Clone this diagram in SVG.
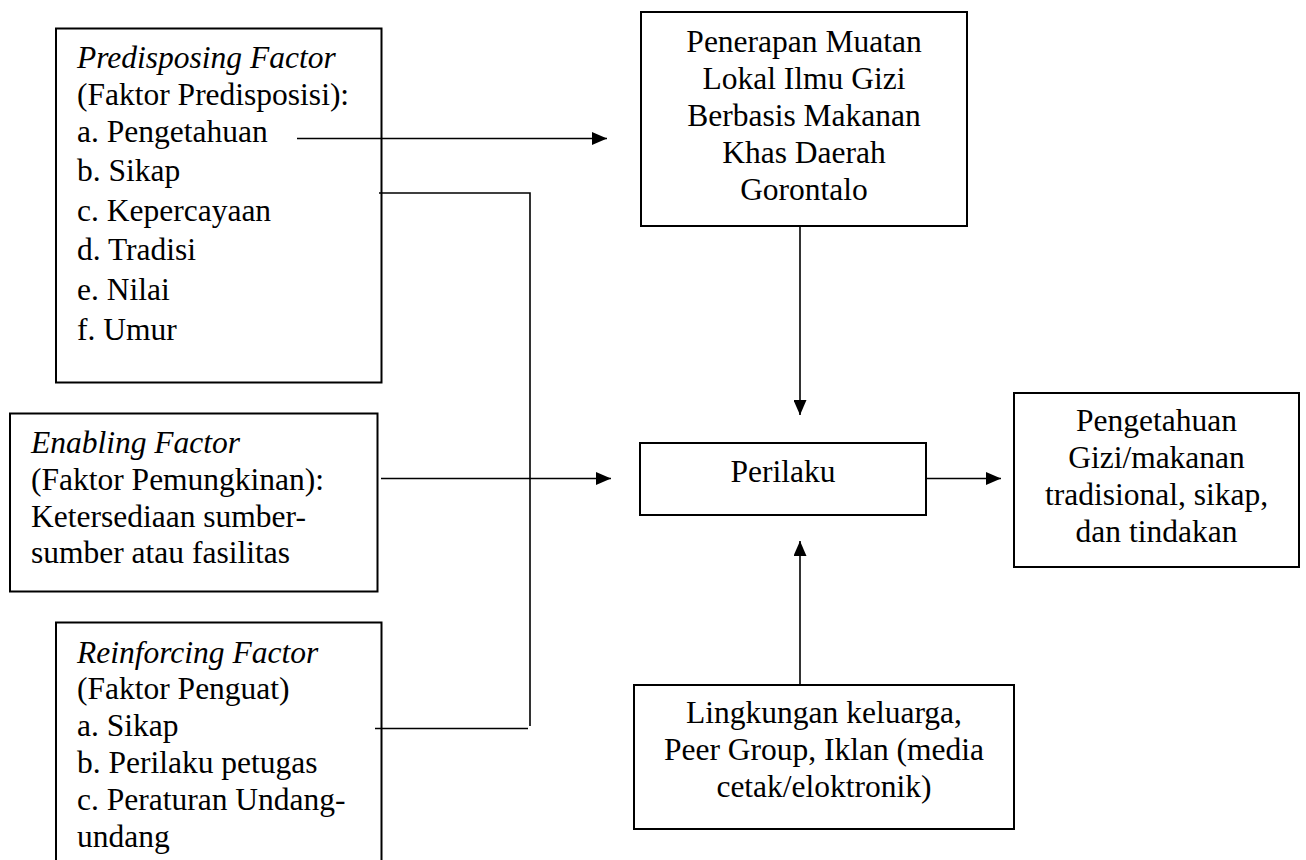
<svg xmlns="http://www.w3.org/2000/svg" width="1306" height="860" viewBox="0 0 1306 860">
<style>
.box{fill:#fff;stroke:#000;stroke-width:2}
.t{font-family:"Liberation Serif","Times New Roman",serif;font-size:31.5px;fill:#000}
.i{font-style:italic}
.c{text-anchor:middle}
.ln{fill:none;stroke:#000;stroke-width:1.6}
</style>
<defs>
<marker id="ah" markerWidth="15" markerHeight="13" refX="15" refY="6.5" orient="auto" markerUnits="userSpaceOnUse">
<path d="M0,0 L15,6.5 L0,13 Z" fill="#000"/>
</marker>
</defs>
<rect width="1306" height="860" fill="#fff"/>
<g id="predisposing">
<rect class="box" x="56" y="28.5" width="325.5" height="354"/>
<text class="t i" x="77" y="68">Predisposing Factor</text>
<text class="t" x="77" y="105">(Faktor Predisposisi):</text>
<text class="t" x="77" y="142">a. Pengetahuan</text>
<text class="t" x="77" y="181">b. Sikap</text>
<text class="t" x="77" y="221">c. Kepercayaan</text>
<text class="t" x="77" y="260">d. Tradisi</text>
<text class="t" x="77" y="300">e. Nilai</text>
<text class="t" x="77" y="340">f. Umur</text>
</g>
<g id="enabling">
<rect class="box" x="10" y="413.5" width="367.5" height="178"/>
<text class="t i" x="31" y="453">Enabling Factor</text>
<text class="t" x="31" y="490">(Faktor Pemungkinan):</text>
<text class="t" x="31" y="527">Ketersediaan sumber-</text>
<text class="t" x="31" y="563">sumber atau fasilitas</text>
</g>
<g id="reinforcing">
<rect class="box" x="56" y="622.5" width="325.5" height="260"/>
<text class="t i" x="77" y="663">Reinforcing Factor</text>
<text class="t" x="77" y="699">(Faktor Penguat)</text>
<text class="t" x="77" y="736">a. Sikap</text>
<text class="t" x="77" y="773">b. Perilaku petugas</text>
<text class="t" x="77" y="810">c. Peraturan Undang-</text>
<text class="t" x="77" y="847">undang</text>
</g>
<g id="penerapan">
<rect class="box" x="641" y="12" width="326" height="214"/>
<text class="t c" x="804" y="52">Penerapan Muatan</text>
<text class="t c" x="804" y="89">Lokal Ilmu Gizi</text>
<text class="t c" x="804" y="126">Berbasis Makanan</text>
<text class="t c" x="804" y="163">Khas Daerah</text>
<text class="t c" x="804" y="200">Gorontalo</text>
</g>
<g id="perilaku">
<rect class="box" x="640" y="443" width="286" height="72"/>
<text class="t c" x="783" y="482">Perilaku</text>
</g>
<g id="pengetahuan">
<rect class="box" x="1014" y="393" width="285" height="174"/>
<text class="t c" x="1156.5" y="431">Pengetahuan</text>
<text class="t c" x="1156.5" y="468">Gizi/makanan</text>
<text class="t c" x="1156.5" y="505">tradisional, sikap,</text>
<text class="t c" x="1156.5" y="542">dan tindakan</text>
</g>
<g id="lingkungan">
<rect class="box" x="634" y="685" width="380" height="144"/>
<text class="t c" x="824" y="723">Lingkungan keluarga,</text>
<text class="t c" x="824" y="760">Peer Group, Iklan (media</text>
<text class="t c" x="824" y="797">cetak/eloktronik)</text>
</g>
<g id="connectors">
<line class="ln" x1="297" y1="138.5" x2="607" y2="138.5" marker-end="url(#ah)"/>
<polyline class="ln" points="379,193 530,193 530,726"/>
<line class="ln" x1="375" y1="728.5" x2="528" y2="728.5"/>
<line class="ln" x1="381" y1="478.5" x2="611" y2="478.5" marker-end="url(#ah)"/>
<line class="ln" x1="800" y1="226" x2="800" y2="415" marker-end="url(#ah)"/>
<line class="ln" x1="926" y1="478.5" x2="1001" y2="478.5" marker-end="url(#ah)"/>
<line class="ln" x1="800" y1="685" x2="800" y2="541" marker-end="url(#ah)"/>
</g>
</svg>
